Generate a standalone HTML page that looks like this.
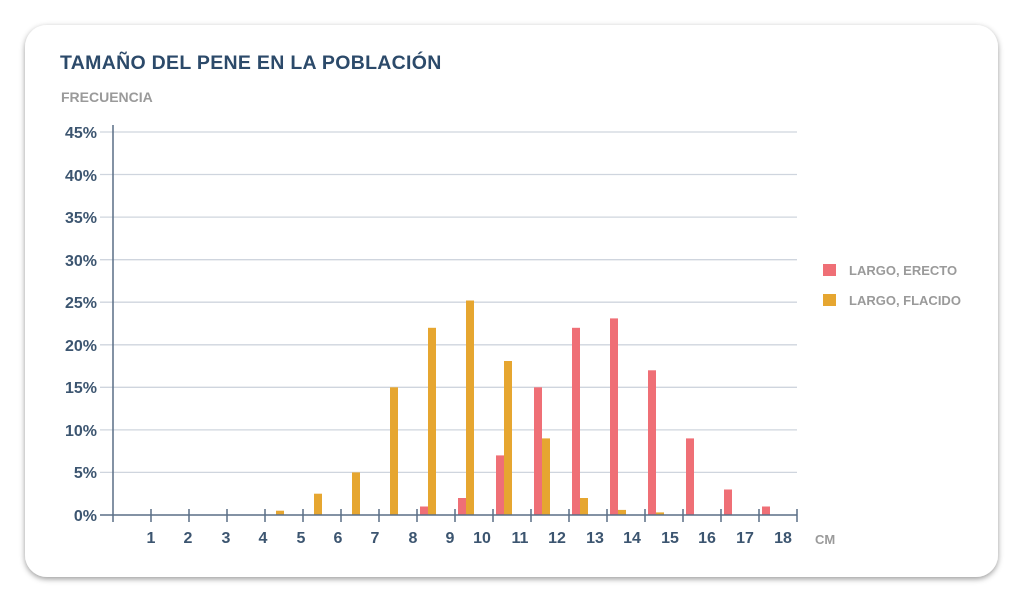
<!DOCTYPE html>
<html><head><meta charset="utf-8"><style>
html,body{margin:0;padding:0;background:#fff;width:1024px;height:607px;overflow:hidden}
svg{display:block;font-family:"Liberation Sans",sans-serif}
</style></head><body>
<svg width="1024" height="607" viewBox="0 0 1024 607">
<defs><filter id="sh" x="-5%" y="-5%" width="110%" height="115%"><feDropShadow dx="0" dy="2" stdDeviation="3" flood-color="#000" flood-opacity="0.4"/></filter></defs>
<rect x="25" y="25" width="973" height="552" rx="22" fill="#fff" filter="url(#sh)"/>
<text x="60" y="69" font-size="19.5" font-weight="bold" fill="#2c4a6a" letter-spacing="0.3">TAMAÑO DEL PENE EN LA POBLACIÓN</text>
<text x="61" y="102" font-size="14" font-weight="bold" fill="#9a9a9a">FRECUENCIA</text>
<g stroke="#cfd5de" stroke-width="1.3">
<line x1="100" x2="797" y1="472.4" y2="472.4"/><line x1="100" x2="797" y1="429.9" y2="429.9"/>
<line x1="100" x2="797" y1="387.3" y2="387.3"/><line x1="100" x2="797" y1="344.8" y2="344.8"/>
<line x1="100" x2="797" y1="302.2" y2="302.2"/><line x1="100" x2="797" y1="259.7" y2="259.7"/>
<line x1="100" x2="797" y1="217.1" y2="217.1"/><line x1="100" x2="797" y1="174.5" y2="174.5"/>
<line x1="100" x2="797" y1="132" y2="132"/>
</g>
<g font-size="16" font-weight="bold" fill="#3c5570" text-anchor="end">
<text x="97" y="521">0%</text><text x="97" y="478">5%</text><text x="97" y="436">10%</text>
<text x="97" y="393">15%</text><text x="97" y="351">20%</text><text x="97" y="308">25%</text>
<text x="97" y="266">30%</text><text x="97" y="223">35%</text><text x="97" y="181">40%</text>
<text x="97" y="138">45%</text>
</g>
<g fill="#e6a630">
<rect x="276" y="510.7" width="8" height="4.3"/><rect x="314" y="493.7" width="8" height="21.3"/>
<rect x="352" y="472.4" width="8" height="42.6"/><rect x="390" y="387.3" width="8" height="127.7"/>
<rect x="428" y="327.8" width="8" height="187.2"/><rect x="466" y="300.5" width="8" height="214.5"/>
<rect x="504" y="361" width="8" height="154"/><rect x="542" y="438.4" width="8" height="76.6"/>
<rect x="580" y="498" width="8" height="17"/><rect x="618" y="509.9" width="8" height="5.1"/>
<rect x="656" y="512.4" width="8" height="2.6"/>
</g>
<g fill="#ef6f76">
<rect x="420" y="506.5" width="8" height="8.5"/><rect x="458" y="498" width="8" height="17"/>
<rect x="496" y="455.4" width="8" height="59.6"/><rect x="534" y="387.3" width="8" height="127.7"/>
<rect x="572" y="327.8" width="8" height="187.2"/><rect x="610" y="318.4" width="8" height="196.6"/>
<rect x="648" y="370.3" width="8" height="144.7"/><rect x="686" y="438.4" width="8" height="76.6"/>
<rect x="724" y="489.5" width="8" height="25.5"/><rect x="762" y="506.5" width="8" height="8.5"/>
</g>
<g stroke="#5a6f86" stroke-width="1.5">
<line x1="113" x2="113" y1="125" y2="522"/>
<line x1="100" x2="797" y1="515" y2="515"/>
<path d="M151 509V522M189 509V522M227 509V522M265 509V522M303 509V522M341 509V522M379 509V522M417 509V522M455 509V522M493 509V522M531 509V522M569 509V522M607 509V522M645 509V522M683 509V522M721 509V522M759 509V522M797 509V522"/>
</g>
<g font-size="16" font-weight="bold" fill="#3c5570" text-anchor="middle">
<text x="151" y="543">1</text><text x="188" y="543">2</text><text x="226" y="543">3</text>
<text x="263" y="543">4</text><text x="301" y="543">5</text><text x="338" y="543">6</text>
<text x="375" y="543">7</text><text x="413" y="543">8</text><text x="450" y="543">9</text>
<text x="482" y="543">10</text><text x="520" y="543">11</text><text x="557" y="543">12</text>
<text x="595" y="543">13</text><text x="632" y="543">14</text><text x="670" y="543">15</text>
<text x="707" y="543">16</text><text x="745" y="543">17</text><text x="783" y="543">18</text>
</g>
<text x="815" y="544" font-size="13" font-weight="bold" fill="#9a9a9a">CM</text>
<rect x="823" y="264" width="13" height="12" fill="#ef6f76"/>
<rect x="823" y="294" width="13" height="12" fill="#e6a630"/>
<text x="849" y="275" font-size="13" font-weight="bold" fill="#9a9a9a">LARGO, ERECTO</text>
<text x="849" y="305" font-size="13" font-weight="bold" fill="#9a9a9a">LARGO, FLACIDO</text>
</svg>
</body></html>
